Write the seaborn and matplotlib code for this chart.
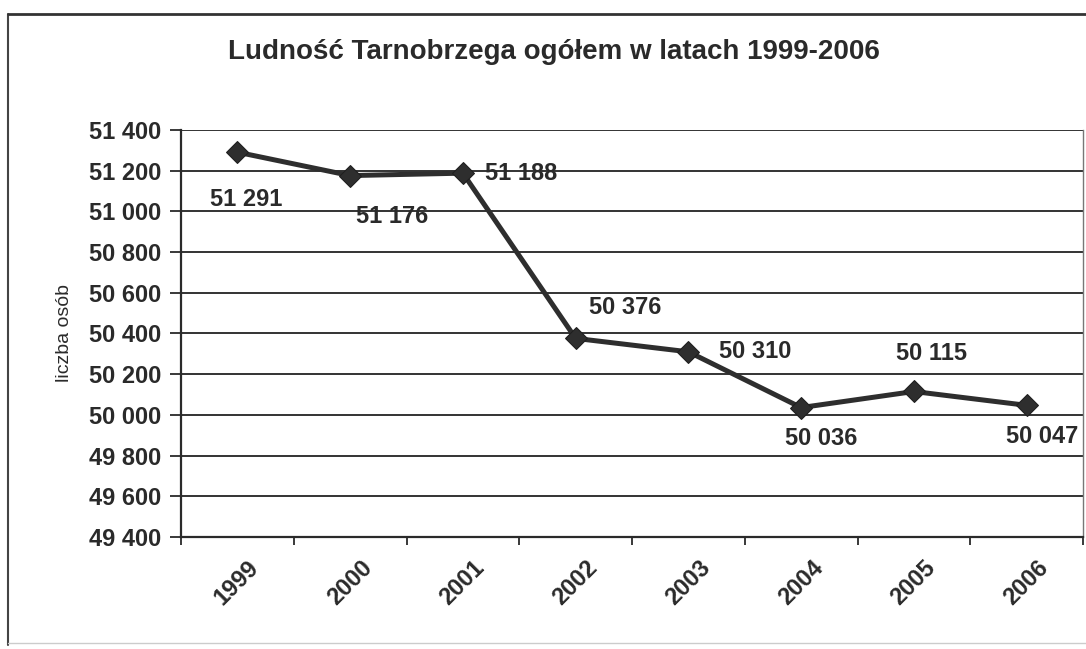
import matplotlib
matplotlib.use("Agg")
import matplotlib.pyplot as plt
import matplotlib.transforms as mtransforms
from matplotlib.ticker import FuncFormatter, FixedLocator
import pandas as pd
import seaborn as sns

years = ["1999", "2000", "2001", "2002", "2003", "2004", "2005", "2006"]
population = [51291, 51176, 51188, 50376, 50310, 50036, 50115, 50047]
y_ticks = list(range(49400, 51401, 200))

# where each value label sits relative to its marker (pixels, y up)
label_offsets = [(9, -47), (42, -41), (58, 0), (50, 31),
                 (67, 0), (20, -31), (18, 38), (15, -31)]

df = pd.DataFrame({"rok": years, "ludnosc": population})

sns.set_theme(style="white")
plt.rcParams["font.family"] = ["Liberation Sans", "DejaVu Sans"]

fig = plt.figure(figsize=(10.86, 6.49), dpi=100)
ax = fig.add_axes([181 / 1086, 1 - 537 / 649, (1083 - 181) / 1086, (537 - 130) / 649])

ink = "#2a2a2a"
sns.lineplot(data=df, x="rok", y="ludnosc", ax=ax, color="#2e2e2e", linewidth=3.6,
             marker="D", markersize=11.5, markeredgecolor="#1e1e1e",
             markerfacecolor="#2e2e2e", sort=False)

ax.set_xlim(-0.5, len(years) - 0.5)
ax.set_ylim(y_ticks[0], y_ticks[-1])
ax.set_yticks(y_ticks)
ax.yaxis.set_major_formatter(FuncFormatter(lambda v, _: f"{int(v):,}".replace(",", " ")))
ax.grid(axis="y", color="#333333", linewidth=1.4)
ax.set_axisbelow(True)

# ticks between categories, labels at category centres
ax.set_xticks(range(len(years)))
ax.set_xticklabels(years)
ax.xaxis.set_minor_locator(FixedLocator([i - 0.5 for i in range(len(years) + 1)]))
ax.tick_params(axis="x", which="major", length=0, pad=14, labelsize=17, colors=ink)
ax.tick_params(axis="x", which="minor", length=6, width=1.3, color=ink, bottom=True)
ax.tick_params(axis="y", length=8, width=1.3, color=ink, labelsize=17, pad=6, left=True,
               labelcolor=ink)
shift = mtransforms.ScaledTranslation(10 / 100, 0, fig.dpi_scale_trans)
for lab in ax.get_xticklabels():
    lab.set_rotation(45)
    lab.set_ha("right")
    lab.set_va("top")
    lab.set_rotation_mode("anchor")
    lab.set_fontweight("bold")
    lab.set_transform(lab.get_transform() + shift)
for lab in ax.get_yticklabels():
    lab.set_fontweight("bold")

for side in ["left", "bottom"]:
    ax.spines[side].set_color(ink)
    ax.spines[side].set_linewidth(1.6)
ax.spines["top"].set_visible(False)
ax.spines["right"].set_color("#777777")
ax.spines["right"].set_linewidth(1.0)

ax.set_xlabel("")
ax.set_ylabel("liczba osób", fontsize=14, color=ink, labelpad=12)

for i, (v, (dx, dy)) in enumerate(zip(population, label_offsets)):
    ax.annotate(f"{v:,}".replace(",", " "), (i, v), xytext=(dx, dy),
                textcoords="offset pixels", ha="center", va="center",
                fontsize=17, fontweight="bold", color=ink)

fig.text(0.5 * (228 + 880) / 1086, 1 - 52 / 649,
         "Ludność Tarnobrzega ogółem w latach 1999-2006",
         ha="center", va="center", fontsize=20, fontweight="bold", color=ink)

# chart-area frame
fig.add_artist(plt.Line2D([8 / 1086, 8 / 1086], [1 - 14 / 649, 1 - 645 / 649],
                          transform=fig.transFigure, color="#444444", linewidth=1.5))
fig.add_artist(plt.Line2D([8 / 1086, 1.0], [1 - 14 / 649, 1 - 14 / 649],
                          transform=fig.transFigure, color="#333333", linewidth=2))
fig.add_artist(plt.Line2D([8 / 1086, 1.0], [1 - 643 / 649, 1 - 643 / 649],
                          transform=fig.transFigure, color="#cccccc", linewidth=1))

fig.savefig("out.png", dpi=100)
plt.close(fig)
